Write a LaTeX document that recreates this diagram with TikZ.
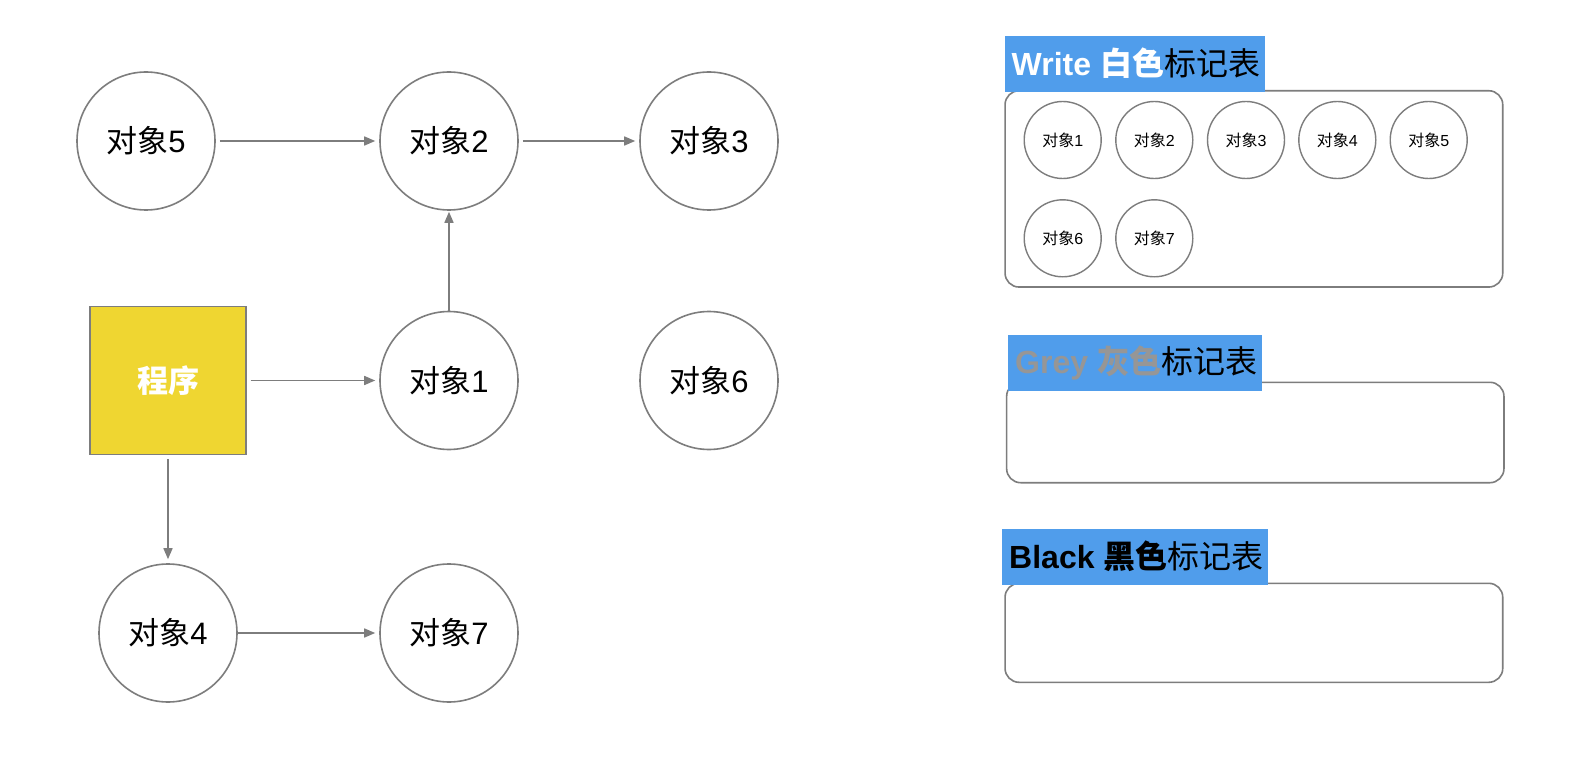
\documentclass[tikz,border=0pt]{standalone}
\usepackage{fontspec}
\setmainfont{Liberation Sans}
\newfontfamily\cjk{Noto Sans CJK SC}
\usetikzlibrary{arrows.meta}
\definecolor{edgegrey}{RGB}{125,125,125}
\definecolor{lblblue}{RGB}{80,157,235}
\definecolor{progyellow}{RGB}{239,214,49}
\definecolor{greytext}{RGB}{150,150,150}
\newcommand\dxl[1]{{\cjk 对象}#1}
\begin{document}
\begin{tikzpicture}[x=1pt,y=-1pt,
  obj/.style={circle,draw=edgegrey,line width=1.6pt,minimum size=138pt,inner sep=0pt,font=\fontsize{31}{36}\selectfont},
  sobj/.style={circle,draw=edgegrey,line width=1.4pt,minimum size=77pt,inner sep=0pt,font=\fontsize{16}{18}\selectfont},
  prog/.style={rectangle,draw=edgegrey,line width=1.2pt,fill=progyellow,minimum width=156pt,minimum height=148pt,inner sep=0pt,text=white,font=\fontsize{31}{36}\selectfont\cjk\bfseries},
  arr/.style={draw=edgegrey,line width=1.6pt,-{Triangle[length=11pt,width=9pt]},shorten >=4pt,shorten <=4pt},
  panel/.style={rectangle,rounded corners=14pt,draw=edgegrey,line width=1.6pt,fill=white,inner sep=0pt},
  lblbox/.style={rectangle,fill=lblblue,anchor=north west,inner sep=0pt},
  lbltext/.style={anchor=west,inner sep=0pt,font=\fontsize{32}{36}\selectfont}
]
\useasboundingbox[fill=white] (0,0) rectangle (1583,770);

% left graph
\node[obj] (o5) at (146,141) {\dxl{5}};
\node[obj] (o2) at (449,141) {\dxl{2}};
\node[obj] (o3) at (709,141) {\dxl{3}};
\node[prog] (p) at (168,380.5) {程序};
\node[obj] (o1) at (449,380.5) {\dxl{1}};
\node[obj] (o6) at (709,380.5) {\dxl{6}};
\node[obj] (o4) at (168,633) {\dxl{4}};
\node[obj] (o7) at (449,633) {\dxl{7}};

\draw[arr] (o5) -- (o2);
\draw[arr] (o2) -- (o3);
\draw[arr] (p) -- (o1);
\draw[arr,shorten <=0pt,shorten >=1pt] (o1) -- (o2);
\draw[arr] (p) -- (o4);
\draw[arr,shorten <=-2pt] (o4) -- (o7);

% right panels
\node[panel,minimum width=497.7pt,minimum height=196.3pt] (b1) at (1253.9,188.9) {};
\node[panel,minimum width=497.3pt,minimum height=100.4pt] (b2) at (1255.3,432.5) {};
\node[panel,minimum width=497.7pt,minimum height=99pt] (b3) at (1253.9,632.8) {};

\node[lblbox,minimum width=260pt,minimum height=55.5pt] (l1) at (1005,36) {};
\node[lbltext] (t1) at ([xshift=6.5pt,yshift=0.5pt]l1.west)
  {\textcolor{white}{\bfseries Write {\cjk 白色}}{\cjk 标记表}};
\node[lblbox,minimum width=254pt,minimum height=56pt] (l2) at (1008,335) {};
\node[lbltext] (t2) at ([xshift=7pt,yshift=0.5pt]l2.west)
  {\textcolor{greytext}{\bfseries Grey {\cjk 灰色}}{\cjk 标记表}};
\node[lblbox,minimum width=266pt,minimum height=56pt] (l3) at (1002,529) {};
\node[lbltext] (t3) at ([xshift=7pt,yshift=0.5pt]l3.west)
  {\textcolor{black}{\bfseries Black {\cjk 黑色}}{\cjk 标记表}};

% small circles in white table
\node[sobj] (s1) at (1062.7,140) {\dxl{1}};
\node[sobj] (s2) at (1154.3,140) {\dxl{2}};
\node[sobj] (s3) at (1246,140) {\dxl{3}};
\node[sobj] (s4) at (1337.3,140) {\dxl{4}};
\node[sobj] (s5) at (1428.7,140) {\dxl{5}};
\node[sobj] (s6) at (1062.7,238.3) {\dxl{6}};
\node[sobj] (s7) at (1154.3,238.3) {\dxl{7}};
\end{tikzpicture}
\end{document}
